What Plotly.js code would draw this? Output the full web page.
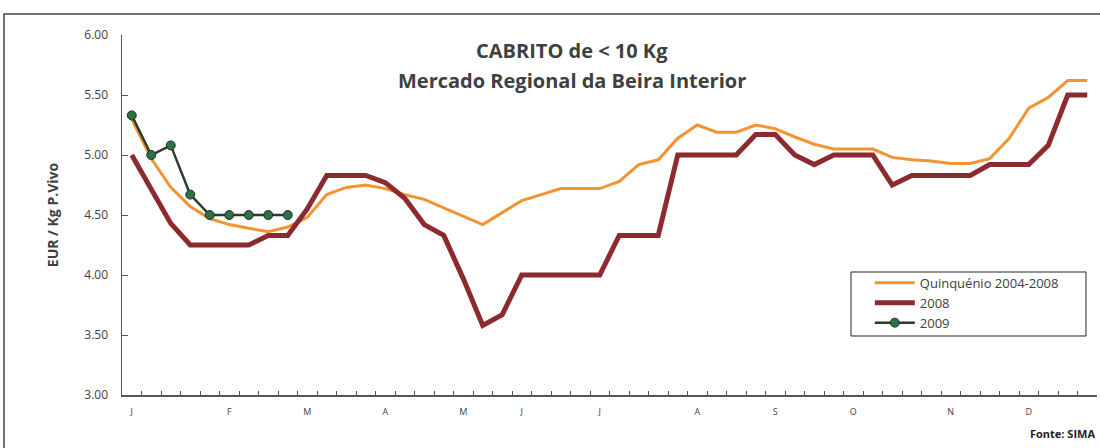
<!DOCTYPE html>
<html>
<head>
<meta charset="utf-8">
<script src="https://cdn.plot.ly/plotly-3.0.1.min.js"></script>
<style>
html,body{margin:0;padding:0;background:#fff;}
#chart{width:1100px;height:448px;}
</style>
</head>
<body>
<div id="chart"></div>
<script>
// Weekly index (0..49) and month labels
const weeks = Array.from({length: 50}, (_, i) => i);
const monthTickPos = [0, 5, 9, 13, 17, 20, 24, 29, 33, 37, 42, 46];
const monthLabels = ["J", "F", "M", "A", "M", "J", "J", "A", "S", "O", "N", "D"];

const quinquenio = [5.30, 4.97, 4.73, 4.57, 4.47, 4.42, 4.39, 4.36, 4.40, 4.48,
                    4.67, 4.73, 4.75, 4.72, 4.67, 4.63, 4.56, 4.49, 4.42, 4.52,
                    4.62, 4.67, 4.72, 4.72, 4.72, 4.78, 4.92, 4.96, 5.14, 5.25,
                    5.19, 5.19, 5.25, 5.22, 5.15, 5.09, 5.05, 5.05, 5.05, 4.98,
                    4.96, 4.95, 4.93, 4.93, 4.97, 5.14, 5.39, 5.48, 5.62, 5.62];
const y2008 = [5.00, 4.72, 4.43, 4.25, 4.25, 4.25, 4.25, 4.33, 4.33, 4.55,
               4.83, 4.83, 4.83, 4.77, 4.64, 4.42, 4.33, 3.97, 3.58, 3.67,
               4.00, 4.00, 4.00, 4.00, 4.00, 4.33, 4.33, 4.33, 5.00, 5.00,
               5.00, 5.00, 5.17, 5.17, 5.00, 4.92, 5.00, 5.00, 5.00, 4.75,
               4.83, 4.83, 4.83, 4.83, 4.92, 4.92, 4.92, 5.08, 5.50, 5.50];
const y2009 = [5.33, 5.00, 5.08, 4.67, 4.50, 4.50, 4.50, 4.50, 4.50];

const yTicks = [3.00, 3.50, 4.00, 4.50, 5.00, 5.50, 6.00];
const boundaryTicks = Array.from({length: 51}, (_, i) => i - 0.5);

const FONT = "Open Sans, Liberation Sans, sans-serif";
const TXT = "#404040";

const traces = [
  {x: weeks, y: quinquenio, name: "Quinquénio 2004-2008", type: "scatter", mode: "lines",
   line: {color: "#F39433", width: 3}},
  {x: weeks, y: y2008, name: "2008", type: "scatter", mode: "lines",
   line: {color: "#8C2A30", width: 5}},
  {x: weeks.slice(0, y2009.length), y: y2009, name: "2009", type: "scatter", mode: "lines+markers",
   line: {color: "#2B3A30", width: 2.5},
   marker: {color: "#2E7048", size: 9, line: {color: "#1F3326", width: 1}}},
  {x: [0], y: [null], xaxis: "x2", showlegend: false, hoverinfo: "skip", mode: "lines"}
];

const layout = {
  width: 1100, height: 448,
  margin: {l: 122, r: 3, t: 35, b: 53},
  paper_bgcolor: "#ffffff", plot_bgcolor: "#ffffff",
  font: {family: FONT, color: TXT, size: 11},
  showlegend: true,
  legend: {x: 0.767, y: 0.353, xanchor: "left", yanchor: "top",
           borderwidth: 0, bgcolor: "rgba(0,0,0,0)",
           font: {family: FONT, size: 13, color: TXT},
           tracegroupgap: 0, itemwidth: 40},
  xaxis: {range: [-0.5, 49.5], tickmode: "array", tickvals: monthTickPos, ticktext: monthLabels,
          ticks: "", showgrid: false, zeroline: false, showline: true, linecolor: "#555", linewidth: 1.5,
          tickfont: {size: 9, color: TXT}, ticklabelstandoff: 8, fixedrange: true},
  xaxis2: {range: [-0.5, 49.5], overlaying: "x", anchor: "y", side: "bottom",
           tickmode: "array", tickvals: boundaryTicks, ticks: "inside", ticklen: 4, tickcolor: "#555",
           showticklabels: false, showgrid: false, zeroline: false, showline: false},
  yaxis: {range: [3, 6], tickmode: "array", tickvals: yTicks,
          ticktext: yTicks.map(v => v.toFixed(2)),
          ticks: "inside", ticklen: 6, tickcolor: "#555",
          showgrid: false, zeroline: false, showline: true, linecolor: "#555", linewidth: 1.5,
          tickfont: {size: 12, color: TXT}, ticklabelstandoff: 10,
          title: {text: "<b>EUR / Kg P.Vivo</b>", font: {size: 14, color: TXT}, standoff: 22}},
  annotations: [
    {text: "<b>CABRITO de &lt; 10 Kg</b>", xref: "paper", yref: "paper", x: 0.4615, y: 0.958,
     yanchor: "middle", showarrow: false, font: {size: 20, color: TXT, family: FONT}},
    {text: "<b>Mercado Regional da Beira Interior</b>", xref: "paper", yref: "paper", x: 0.4615, y: 0.875,
     yanchor: "middle", showarrow: false, font: {size: 20, color: TXT, family: FONT}},
    {text: "<b>Fonte: SIMA</b>", xref: "paper", yref: "paper", x: 1.0, y: -0.108,
     xanchor: "right", yanchor: "middle", showarrow: false, font: {size: 11, color: "#222", family: FONT}}
  ],
  shapes: [
    {type: "rect", xref: "paper", yref: "paper", x0: -0.121, x1: 1.01, y0: -0.16, y1: 1.058,
     line: {color: "#444", width: 1.5}, fillcolor: "rgba(0,0,0,0)", layer: "below"},
    {type: "rect", xref: "paper", yref: "paper", x0: 0.7477, x1: 0.9887, y0: 0.1639, y1: 0.3417,
     line: {color: "#222", width: 1}, fillcolor: "#ffffff", layer: "above"}
  ]
};

Plotly.newPlot("chart", traces, layout, {displayModeBar: false, staticPlot: true});
</script>
</body>
</html>
